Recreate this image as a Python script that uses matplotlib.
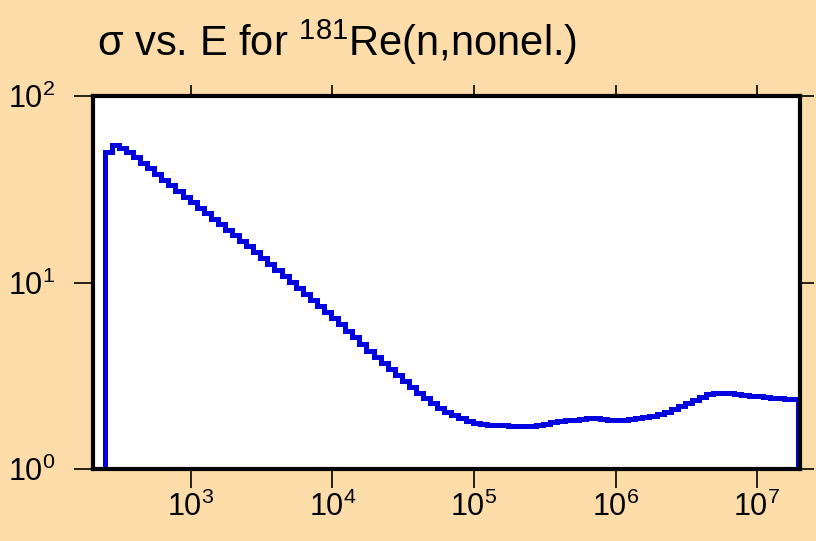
import matplotlib.pyplot as plt
import numpy as np
from matplotlib.ticker import FixedLocator, NullLocator, FuncFormatter

plt.rcParams['font.family'] = ['Liberation Sans', 'DejaVu Sans']
plt.rcParams['mathtext.fontset'] = 'custom'
plt.rcParams['mathtext.rm'] = 'Liberation Sans'
plt.rcParams['mathtext.default'] = 'regular'

# energy group boundaries (eV), 20 groups per decade
edges = np.logspace(2.39, 7.29, 99)

# cross section per group (b)
sigma = [
    50.1, 54.6, 52.6, 50.1, 47.1, 43.7, 41.1, 38.2, 35.4, 33.3,
    30.9, 28.7, 27.0, 25.1, 23.6, 21.9, 20.6, 19.1, 18.0, 16.7,
    15.7, 14.6, 13.5, 12.6, 11.7, 10.8, 10.1, 9.34, 8.68, 8.06,
    7.48, 6.95, 6.45, 5.99, 5.50, 5.10, 4.68, 4.29, 3.99, 3.70,
    3.44, 3.19, 2.96, 2.75, 2.56, 2.40, 2.26, 2.12, 2.02, 1.95,
    1.88, 1.81, 1.76, 1.74, 1.73, 1.72, 1.72, 1.71, 1.70, 1.70,
    1.70, 1.72, 1.74, 1.79, 1.81, 1.83, 1.84, 1.85, 1.87, 1.87,
    1.85, 1.84, 1.83, 1.83, 1.85, 1.88, 1.90, 1.92, 1.97, 2.02,
    2.10, 2.18, 2.26, 2.34, 2.43, 2.51, 2.56, 2.57, 2.54, 2.51,
    2.48, 2.46, 2.45, 2.43, 2.40, 2.39, 2.37, 2.37,
]

x_ticks = [1e3, 1e4, 1e5, 1e6, 1e7]
y_ticks = [1, 10, 100]

bg = '#FCDDAA'

fig = plt.figure(figsize=(8.16, 5.41), dpi=100, facecolor=bg)
ax = fig.add_axes([93 / 816, 72 / 541, 707 / 816, 373 / 541])
ax.set_facecolor('white')

ax.stairs(sigma, edges, baseline=0.5, color='#0000E0', linewidth=3.6)
for ln in ax.patches:
    ln.set_joinstyle('miter')

ax.set_xscale('log')
ax.set_yscale('log')
ax.set_xlim(203, 2.013e7)
ax.set_ylim(1, 100)

ax.xaxis.set_major_locator(FixedLocator(x_ticks))
ax.yaxis.set_major_locator(FixedLocator(y_ticks))
ax.xaxis.set_minor_locator(NullLocator())
ax.yaxis.set_minor_locator(NullLocator())

fmt = FuncFormatter(lambda v, p: '$10^{%d}$' % round(np.log10(v)))
ax.xaxis.set_major_formatter(fmt)
ax.yaxis.set_major_formatter(fmt)

for s in ax.spines.values():
    s.set_linewidth(3.0)
    s.set_color('black')

ax.tick_params(which='major', direction='out', top=True, right=True,
               labeltop=False, labelright=False, width=1.2, color='black',
               labelsize=22, pad=2)
ax.tick_params(axis='x', which='major', length=14)
ax.tick_params(axis='y', which='major', length=14, pad=13)
for t in ax.xaxis.get_major_ticks():
    t.tick2line.set_markersize(8)
for t in ax.yaxis.get_major_ticks():
    t.tick2line.set_markersize(10)

fig.text(97 / 816, (541 - 56) / 541, 'σ vs. E for $^{181}$Re(n,nonel.)',
         fontsize=30, ha='left', va='baseline')

fig.savefig('out.png', dpi=100, facecolor=bg)
